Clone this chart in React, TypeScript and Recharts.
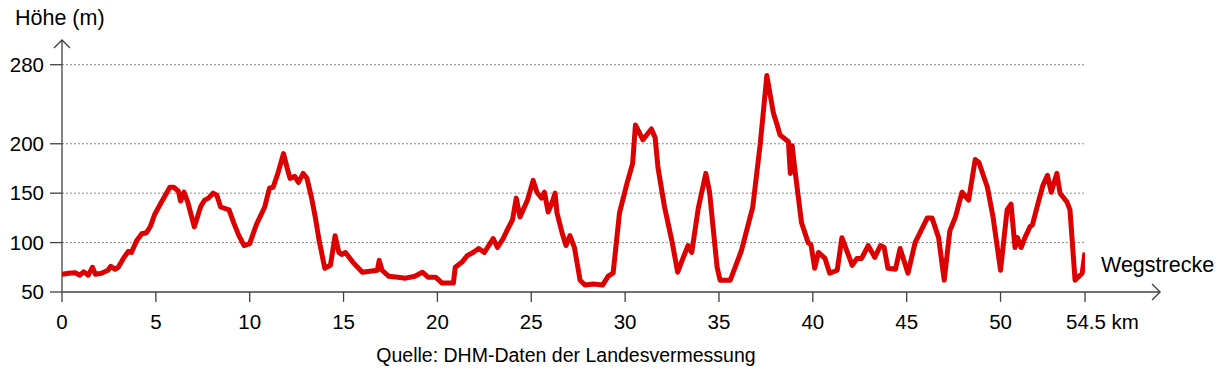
import { LineChart, Line, XAxis, YAxis, CartesianGrid, ReferenceLine } from "recharts";

// Höhenprofil: Distanz (km) und Höhe (m)
const distanceKm = [
  0, 0.35, 0.7, 0.95, 1.15, 1.4, 1.62, 1.78, 2.1, 2.45, 2.6, 2.82, 3.0, 3.27, 3.53, 3.7, 3.98,
  4.25, 4.5, 4.7, 4.95, 5.3, 5.75, 5.95, 6.2, 6.32, 6.5, 6.7, 7.05, 7.4, 7.6, 7.8, 8.05, 8.25,
  8.45, 8.9, 9.15, 9.4, 9.7, 10.0, 10.35, 10.8, 11.05, 11.25, 11.5, 11.8, 12.0, 12.15, 12.4,
  12.6, 12.85, 13.05, 13.3, 13.5, 13.7, 14.0, 14.3, 14.55, 14.75, 14.9, 15.1, 15.5, 15.8, 16.0,
  16.4, 16.8, 16.9, 17.05, 17.4, 17.9, 18.3, 18.8, 19.2, 19.5, 19.9, 20.25, 20.85, 20.95, 21.3,
  21.6, 21.9, 22.2, 22.5, 22.97, 23.2, 23.5, 23.7, 24.0, 24.2, 24.4, 24.8, 25.1, 25.3, 25.55,
  25.7, 25.9, 26.1, 26.27, 26.37, 26.64, 26.85, 27.06, 27.3, 27.6, 27.86, 28.3, 28.8, 29.1,
  29.36, 29.7, 30.1, 30.4, 30.55, 30.95, 31.4, 31.6, 31.75, 32.1, 32.5, 32.8, 33.1, 33.35,
  33.55, 33.9, 34.3, 34.5, 34.9, 35.06, 35.6, 36.2, 36.8, 37.2, 37.55, 37.9, 38.1, 38.25, 38.7,
  38.8, 38.9, 39.05, 39.4, 39.75, 39.9, 40.1, 40.3, 40.65, 40.9, 41.3, 41.55, 42.1, 42.35, 42.6,
  42.95, 43.3, 43.6, 43.8, 44.0, 44.4, 44.65, 45.07, 45.45, 46.1, 46.35, 46.7, 47.0, 47.3, 47.6,
  47.95, 48.3, 48.65, 48.85, 49.3, 49.6, 50.0, 50.35, 50.56, 50.77, 50.9, 51.1, 51.3, 51.57,
  51.7, 52.0, 52.26, 52.5, 52.7, 53.0, 53.17, 53.54, 53.7, 53.97, 54.35, 54.5,
];
const heightM = [
  68, 69, 69.5, 67, 70.5, 67, 75, 68, 69, 72, 76, 73, 75, 84, 91, 90, 102,
  109, 110, 116, 129, 141, 156, 156, 152, 142, 151, 141, 116, 137, 143, 145, 150, 148,
  136, 133, 120, 108, 97, 99, 118, 136, 155, 156, 170, 190, 175, 165, 167,
  161, 170, 165, 145, 125, 102, 74, 77, 107, 90, 88, 90, 80, 74, 70,
  71, 72, 82, 72, 66, 65, 64, 66, 70, 65, 65, 59, 59, 75, 80,
  87, 90, 94, 90, 104, 95, 104, 112, 123, 145, 126, 143, 163, 151, 145,
  151, 131, 140, 150, 130, 110, 97, 107, 95, 62, 57, 58, 57, 66,
  69, 130, 160, 180, 219, 204, 215, 206, 176, 136, 101, 70, 85, 97,
  90, 135, 170, 151, 75, 62, 62, 92, 136, 200, 269, 231, 219, 209, 202,
  170, 198, 173, 120, 100, 98, 74, 90, 84, 69, 72, 105, 77, 84, 84,
  97, 85, 97, 95, 74, 73, 94, 69, 100, 125, 125, 105, 62, 112, 126,
  151, 143, 184, 181, 156, 126, 72, 133, 139, 95, 105, 95, 105, 116,
  118, 140, 158, 168, 151, 170, 150, 141, 133, 62, 69, 90,
];

const xTicks = [0, 5, 10, 15, 20, 25, 30, 35, 40, 45, 50, 54.5];
const yTicks = [50, 100, 150, 200, 280];
const gridValues = [100, 150, 200, 280];

const profile = distanceKm.map((km, i) => ({ km, h: heightM[i] }));

const FONT = '"Liberation Sans", Arial, sans-serif';
const AXIS = "#404040";
const X_MAX = 54.5;
const Y_MIN = 50;
const Y_MAX = 305;
// tick mark lengths in data units (about 10px down, 12px left)
const X_TICK_LEN = 10;
const Y_TICK_LEN = 0.64;

const XTick = (props: any) => {
  const { x, y, payload } = props;
  const isLast = payload.value === X_MAX;
  return (
    <text
      x={isLast ? x - 19 : x}
      y={y}
      dy="0.71em"
      textAnchor={isLast ? "start" : "middle"}
      fontSize={20.5}
      fill="#000"
      fontFamily={FONT}
    >
      {isLast ? "54.5 km" : payload.value}
    </text>
  );
};

const tickShape = (props: any) => {
  const { x1, y1, x2, y2 } = props;
  return <line x1={x1} y1={y1} x2={x2} y2={y2} stroke={AXIS} strokeWidth={1.3} />;
};

// axis line with open arrow head
const arrowShape = (dir: "up" | "right") => (props: any) => {
  const { x1, y1, x2, y2 } = props;
  const head =
    dir === "right"
      ? `M${x2 - 8},${y2 - 8} L${x2},${y2} L${x2 - 8},${y2 + 8}`
      : `M${x2 - 8},${y2 + 8} L${x2},${y2} L${x2 + 8},${y2 + 8}`;
  return (
    <g>
      <line x1={x1} y1={y1} x2={x2} y2={y2} stroke={AXIS} strokeWidth={1.3} />
      <path d={head} fill="none" stroke={AXIS} strokeWidth={1.3} />
    </g>
  );
};

export default function App() {
  return (
    <div style={{ position: "absolute", left: 0, top: 0, width: 1224, height: 378, background: "#fff" }}>
      <LineChart
        width={1224}
        height={378}
        data={profile}
        margin={{ top: 40, right: 139, left: 12, bottom: 46 }}
      >
        <CartesianGrid
          horizontal
          vertical={false}
          horizontalValues={gridValues}
          stroke="#8a8a8a"
          strokeDasharray="2 2"
        />
        <XAxis
          dataKey="km"
          type="number"
          domain={[0, X_MAX]}
          ticks={xTicks}
          allowDataOverflow
          axisLine={false}
          tickLine={false}
          tickSize={10}
          tickMargin={12}
          height={40}
          tick={<XTick />}
          interval={0}
        />
        <YAxis
          type="number"
          domain={[Y_MIN, Y_MAX]}
          ticks={yTicks}
          allowDataOverflow
          axisLine={false}
          tickLine={false}
          tickSize={12}
          tickMargin={6}
          width={50}
          interval={0}
          tick={{ fill: "#000", fontSize: 20.5, fontFamily: FONT }}
        />
        {xTicks.map((t) => (
          <ReferenceLine
            key={`xt-${t}`}
            segment={[{ x: t, y: Y_MIN }, { x: t, y: Y_MIN - X_TICK_LEN }]}
            ifOverflow="visible"
            shape={tickShape}
          />
        ))}
        {yTicks.map((t) => (
          <ReferenceLine
            key={`yt-${t}`}
            segment={[{ x: -Y_TICK_LEN, y: t }, { x: 0, y: t }]}
            ifOverflow="visible"
            shape={tickShape}
          />
        ))}
        <ReferenceLine
          segment={[{ x: 0, y: Y_MIN }, { x: 58.5, y: Y_MIN }]}
          ifOverflow="visible"
          shape={arrowShape("right")}
        />
        <ReferenceLine
          segment={[{ x: 0, y: Y_MIN }, { x: 0, y: Y_MAX }]}
          ifOverflow="visible"
          shape={arrowShape("up")}
        />
        <Line
          type="linear"
          dataKey="h"
          stroke="#dd0000"
          strokeWidth={5}
          strokeLinejoin="round"
          dot={false}
          activeDot={false}
          isAnimationActive={false}
        />
      </LineChart>
      <svg
        width={1224}
        height={378}
        style={{ position: "absolute", left: 0, top: 0, pointerEvents: "none" }}
        fontFamily={FONT}
      >
        <text x={15} y={25} fontSize={21.5} fill="#000">Höhe (m)</text>
        <text x={1101} y={272} fontSize={21.5} fill="#000">Wegstrecke</text>
        <text x={566} y={362} fontSize={19.5} fill="#000" textAnchor="middle">
          Quelle: DHM-Daten der Landesvermessung
        </text>
      </svg>
    </div>
  );
}
